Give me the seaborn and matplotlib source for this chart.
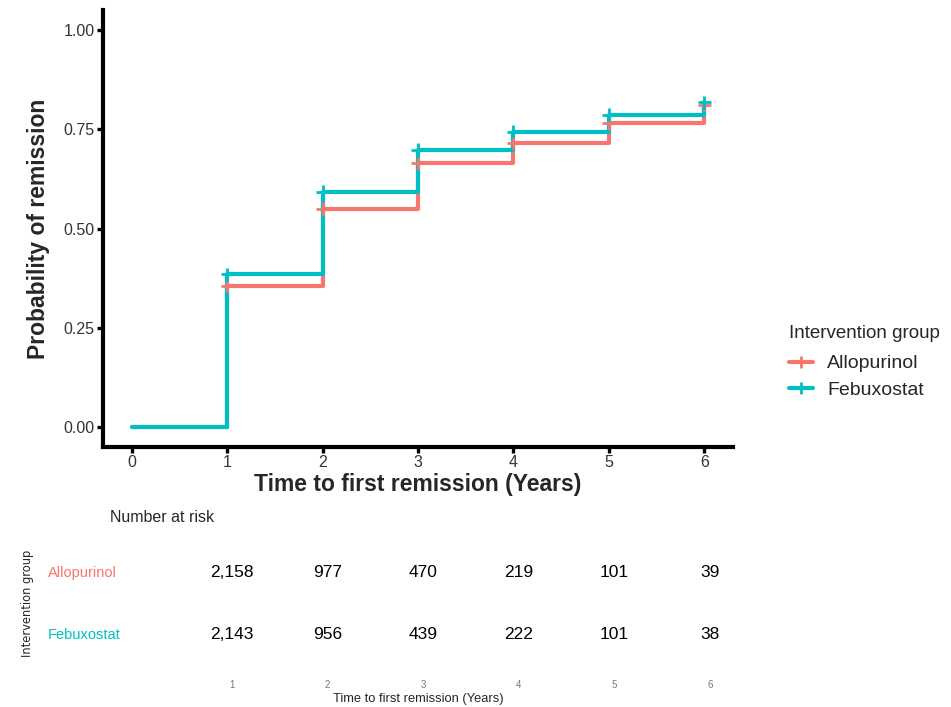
import matplotlib
matplotlib.use("Agg")
import matplotlib.pyplot as plt
import matplotlib.transforms as mtransforms
from matplotlib.lines import Line2D
import pandas as pd
import seaborn as sns

# Kaplan-Meier style cumulative remission
years = [0, 1, 2, 3, 4, 5, 6]
allopurinol = [0.0, 0.356, 0.549, 0.664, 0.716, 0.765, 0.812]
febuxostat = [0.0, 0.385, 0.593, 0.698, 0.744, 0.786, 0.818]

groups = ["Allopurinol", "Febuxostat"]
colors = {"Allopurinol": "#F8766D", "Febuxostat": "#00BFC4"}

# Number at risk table
risk_years = [1, 2, 3, 4, 5, 6]
risk_allopurinol = ["2,158", "977", "470", "219", "101", "39"]
risk_febuxostat = ["2,143", "956", "439", "222", "101", "38"]

y_ticks = [0.0, 0.25, 0.5, 0.75, 1.0]
y_tick_labels = ["0.00", "0.25", "0.50", "0.75", "1.00"]

sns.set_style("white")
plt.rcParams["font.family"] = ["Liberation Sans", "DejaVu Sans"]

df = pd.DataFrame({
    "time": years * 2,
    "prob": allopurinol + febuxostat,
    "group": [groups[0]] * len(years) + [groups[1]] * len(years),
})
censor = df[df["time"] > 0]

fig = plt.figure(figsize=(9.51, 7.07), dpi=100)

# --- main curve ---
ax = fig.add_axes([0.1083, 0.3678, 0.6625, 0.618])
sns.lineplot(data=df, x="time", y="prob", hue="group", palette=colors,
             drawstyle="steps-post", linewidth=3, ax=ax, legend=False)
sns.scatterplot(data=censor, x="time", y="prob", hue="group", palette=colors,
                marker="+", s=90, linewidth=2, ax=ax, legend=False, zorder=3)

ax.set_xlim(-0.3, 6.3)
ax.set_ylim(-0.05, 1.05)
ax.set_xticks(years)
ax.set_yticks(y_ticks)
ax.set_yticklabels(y_tick_labels)
ax.set_xlabel("Time to first remission (Years)", fontsize=16.5, fontweight="bold", labelpad=2)
ax.set_ylabel("Probability of remission", fontsize=16.5, fontweight="bold", labelpad=10)
ax.tick_params(axis="both", bottom=True, left=True, length=4, width=2.4, color="black",
               labelsize=11.5, labelcolor="#333333", pad=2)
for side in ["top", "right"]:
    ax.spines[side].set_visible(False)
for side in ["left", "bottom"]:
    ax.spines[side].set_linewidth(3)
    ax.spines[side].set_color("black")

handles = [Line2D([0], [0], color=colors[g], lw=3, marker="+", markersize=9,
                  markeredgewidth=2) for g in groups]
leg = fig.legend(handles, groups, title="Intervention group", loc="upper left",
                 bbox_to_anchor=(0.822, 0.551), frameon=False, fontsize=14,
                 title_fontsize=13.5, handlelength=1.2, handletextpad=0.75,
                 labelspacing=0.45, borderaxespad=0)
leg._legend_box.align = "left"
leg._legend_box.sep = 9

# --- number at risk table ---
axr = fig.add_axes([0.1083, 0.058, 0.6625, 0.1754])
axr.set_xlim(-0.349, 6.24)
axr.set_ylim(-0.5, 1.5)
for x, a, f in zip(risk_years, risk_allopurinol, risk_febuxostat):
    axr.text(x, 1, a, ha="center", va="center", fontsize=12.5, color="black")
    axr.text(x, 0, f, ha="center", va="center", fontsize=12.5, color="black")
axr.set_xticks(risk_years)
axr.set_yticks([])
axr.tick_params(axis="x", length=0, labelsize=7, labelcolor="#777777", pad=10)
axr.set_xlabel("Time to first remission (Years)", fontsize=9.3, labelpad=2)
for side in axr.spines:
    axr.spines[side].set_visible(False)

trans = mtransforms.blended_transform_factory(fig.transFigure, axr.transData)
axr.text(0.0505, 1, groups[0], transform=trans, ha="left", va="center",
         fontsize=10.5, color=colors[groups[0]])
axr.text(0.0505, 0, groups[1], transform=trans, ha="left", va="center",
         fontsize=10.5, color=colors[groups[1]])
fig.text(0.029, 1 - 603 / 707, "Intervention group", rotation=90, ha="center",
         va="center", fontsize=8.3, family="DejaVu Sans")
fig.text(0.1157, 1 - 518 / 707, "Number at risk", ha="left", va="center", fontsize=11.5)

fig.savefig("out.png", dpi=100)
